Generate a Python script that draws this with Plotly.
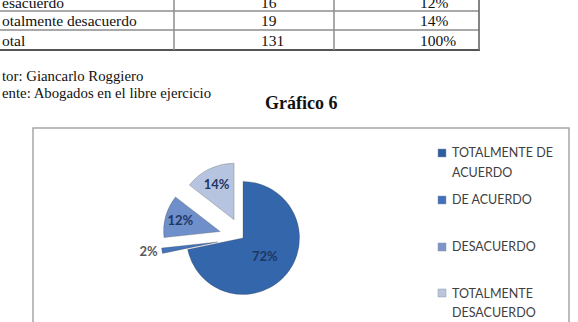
import plotly.graph_objects as go

W, H = 578, 322

# ---- data ----
labels = ["TOTALMENTE DE ACUERDO", "DE ACUERDO", "DESACUERDO", "TOTALMENTE DESACUERDO"]
counts = [94, 2, 16, 19]
slice_text = ["72%", "2%", "12%", "14%"]
legend_lines = [["TOTALMENTE DE", "ACUERDO"], ["DE ACUERDO"], ["DESACUERDO"], ["TOTALMENTE", "DESACUERDO"]]

table_col1 = ["esacuerdo", "otalmente desacuerdo", "otal"]
table_col2 = ["16", "19", "131"]
table_col3 = ["12%", "14%", "100%"]

note_lines = ["tor: Giancarlo Roggiero", "ente: Abogados en el libre ejercicio"]
chart_title = "Gráfico 6"

# ---- style ----
slice_colors = ["#3466AC", "#4672B8", "#6F8FCA", "#B7C4DF"]
legend_colors = ["#2F5C9E", "#4170BA", "#7D95C6", "#BCC5DA"]
text_colors = ["#1D3763", "#595959", "#1D3763", "#1D3763"]
pulls = [0, 0.45, 0.42, 0.36]


def px(x):
    return x / W


def py(y):
    return 1 - y / H


fig = go.Figure()

# pie: centre (243, 238), box height 168 -> r ~ 58
cx, cy, half = 243, 238, 82
fig.add_trace(go.Pie(
    labels=labels,
    values=counts,
    text=slice_text,
    textinfo="text",
    sort=False,
    direction="clockwise",
    rotation=0,
    pull=pulls,
    marker=dict(colors=slice_colors, line=dict(color="rgba(60,60,60,0.25)", width=1)),
    textposition=["inside", "outside", "inside", "inside"],
    insidetextorientation="horizontal",
    textfont=dict(family="Lato", size=13, color=text_colors, weight="bold"),
    domain=dict(x=[px(cx - half - 6), px(cx + half + 6)], y=[py(cy + half), py(cy - half)]),
    showlegend=False,
    hoverinfo="skip",
    automargin=False,
))

shapes = []
annotations = []

# ---- table lines ----
grid = "#8C8C8C"
for yy in [11, 30]:
    shapes.append(dict(type="line", xref="paper", yref="paper", x0=px(0), x1=px(479),
                       y0=py(yy), y1=py(yy), line=dict(color=grid, width=1.5)))
shapes.append(dict(type="line", xref="paper", yref="paper", x0=px(0), x1=px(480),
                   y0=py(50), y1=py(50), line=dict(color="#555555", width=1.8)))
for xx in [174, 334]:
    shapes.append(dict(type="line", xref="paper", yref="paper", x0=px(xx), x1=px(xx),
                       y0=py(0), y1=py(50), line=dict(color=grid, width=1.5)))
shapes.append(dict(type="line", xref="paper", yref="paper", x0=px(479), x1=px(479),
                   y0=py(0), y1=py(50), line=dict(color="#777777", width=1.8)))

row_y = [2, 21, 40]
serif = "Liberation Serif"
for i in range(3):
    annotations.append(dict(x=px(0), y=py(row_y[i]), xref="paper", yref="paper", text=table_col1[i],
                            showarrow=False, xanchor="left", yanchor="middle",
                            font=dict(family=serif, size=15.5, color="#111111")))
    annotations.append(dict(x=px(259), y=py(row_y[i]), xref="paper", yref="paper", text=table_col2[i],
                            showarrow=False, xanchor="left", yanchor="middle",
                            font=dict(family=serif, size=15.5, color="#111111")))
    annotations.append(dict(x=px(418), y=py(row_y[i]), xref="paper", yref="paper", text=table_col3[i],
                            showarrow=False, xanchor="left", yanchor="middle",
                            font=dict(family=serif, size=15.5, color="#111111")))

for i, t in enumerate(note_lines):
    annotations.append(dict(x=px(0), y=py([76, 93][i]), xref="paper", yref="paper", text=t,
                            showarrow=False, xanchor="left", yanchor="middle",
                            font=dict(family=serif, size=14.8, color="#111111")))

annotations.append(dict(x=px(301), y=py(103), xref="paper", yref="paper", text="<b>" + chart_title + "</b>",
                        showarrow=False, xanchor="center", yanchor="middle",
                        font=dict(family=serif, size=18, color="#111111")))

# ---- chart box ----
shapes.append(dict(type="rect", xref="paper", yref="paper", x0=px(33), x1=px(569), y0=py(330), y1=py(128),
                   line=dict(color="#A6A6A6", width=1.5), fillcolor="rgba(0,0,0,0)", layer="below"))

# ---- legend ----
leg_y = [153, 200, 247, 293]
for i, lines in enumerate(legend_lines):
    shapes.append(dict(type="rect", xref="paper", yref="paper", x0=px(438), x1=px(446),
                       y0=py(leg_y[i] + 4), y1=py(leg_y[i] - 4),
                       fillcolor=legend_colors[i], line=dict(color="#8896B0", width=0.5)))
    for j, ln in enumerate(lines):
        annotations.append(dict(x=px(450), y=py(leg_y[i] + 19 * j), xref="paper", yref="paper", text=ln,
                                showarrow=False, xanchor="left", yanchor="middle",
                                font=dict(family="Lato", size=12.5, color="#404040")))

fig.update_layout(
    width=W, height=H, autosize=False,
    margin=dict(l=0, r=0, t=0, b=0, pad=0, autoexpand=False),
    paper_bgcolor="white", plot_bgcolor="white",
    shapes=shapes, annotations=annotations,
    showlegend=False,
)

fig.write_html("out.html")
